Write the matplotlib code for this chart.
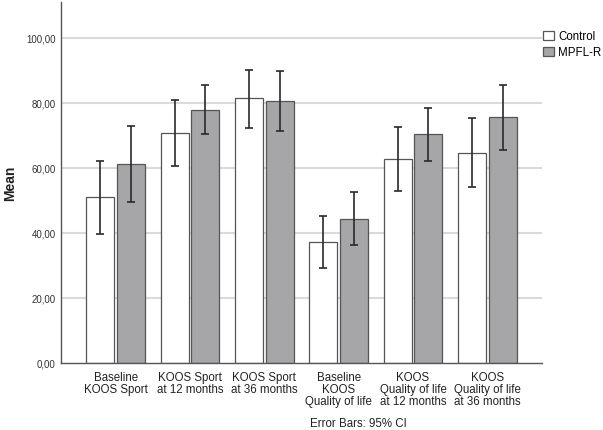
import matplotlib
matplotlib.use("Agg")
import matplotlib.pyplot as plt
import numpy as np
from matplotlib.patches import Patch

plt.rcParams['font.family'] = ['Liberation Sans', 'DejaVu Sans']

categories = ["Baseline\nKOOS Sport", "KOOS Sport\nat 12 months", "KOOS Sport\nat 36 months",
              "Baseline\nKOOS\nQuality of life", "KOOS\nQuality of life\nat 12 months",
              "KOOS\nQuality of life\nat 36 months"]
control_mean = [50.9, 70.8, 81.4, 37.3, 62.7, 64.7]
control_lo = [39.7, 60.6, 72.4, 29.3, 52.9, 54.0]
control_hi = [62.2, 81.0, 90.2, 45.2, 72.6, 75.3]
mpfl_mean = [61.2, 77.8, 80.5, 44.4, 70.3, 75.6]
mpfl_lo = [49.4, 70.3, 71.4, 36.4, 62.2, 65.4]
mpfl_hi = [73.0, 85.4, 89.8, 52.6, 78.3, 85.5]
yticks = [0, 20, 40, 60, 80, 100]
series_names = ["Control", "MPFL-R"]

fig = plt.figure(figsize=(6.03, 4.31), dpi=100)
ax = fig.add_axes([61/603, 1-364/431, (542-61)/603, (364-3)/431])

x = np.arange(len(categories))
w = 0.375
off = 0.205
edge = "#555555"
gray = "#a6a6a9"

ax.set_axisbelow(True)
for yt in yticks[1:]:
    ax.axhline(yt, color="#dadada", lw=1.5, zorder=0)

cm = np.array(control_mean); mm = np.array(mpfl_mean)
ax.bar(x - off, cm, w, color="white", edgecolor=edge, lw=0.9, zorder=2)
ax.bar(x + off, mm, w, color=gray, edgecolor=edge, lw=0.9, zorder=2)
ax.errorbar(x - off, cm, yerr=[cm - np.array(control_lo), np.array(control_hi) - cm],
            fmt="none", ecolor="#2a2a2a", elinewidth=1.2, capsize=3, capthick=1.2, zorder=3)
ax.errorbar(x + off, mm, yerr=[mm - np.array(mpfl_lo), np.array(mpfl_hi) - mm],
            fmt="none", ecolor="#2a2a2a", elinewidth=1.2, capsize=3, capthick=1.2, zorder=3)

ax.set_xlim(-0.735, 5.735)
ax.set_ylim(0, 111)
ax.set_yticks(yticks)
ax.set_yticklabels([f"{v:.2f}".replace(".", ",") for v in yticks], fontsize=7, color="#333333")
ax.set_xticks(x)
ax.set_xticklabels(categories, fontsize=8.3, color="#222222", linespacing=1.0, va="top")
ax.tick_params(axis="y", length=0, pad=4)
ax.tick_params(axis="x", length=0, pad=6)
for s in ["top", "right"]:
    ax.spines[s].set_visible(False)
for s in ["left", "bottom"]:
    ax.spines[s].set_color("#555555")
    ax.spines[s].set_linewidth(1.0)

fig.text(10/603, 1-183/431, "Mean", rotation=90, fontsize=10, fontweight="bold",
         ha="center", va="center", color="#222222")
fig.text(310/603, 1-424/431, "Error Bars: 95% CI", fontsize=8.3, ha="left", va="center",
         color="#222222")

handles = [Patch(facecolor="white", edgecolor=edge, lw=0.9),
           Patch(facecolor=gray, edgecolor=edge, lw=0.9)]
leg = fig.legend(handles, series_names, loc="upper left", bbox_to_anchor=(541/603, 1-29/431),
                 frameon=False, fontsize=8.3, handlelength=0.9, handleheight=0.9,
                 handletextpad=0.4, labelspacing=0.35, borderaxespad=0, borderpad=0.2)

fig.savefig("out.png", dpi=100)
